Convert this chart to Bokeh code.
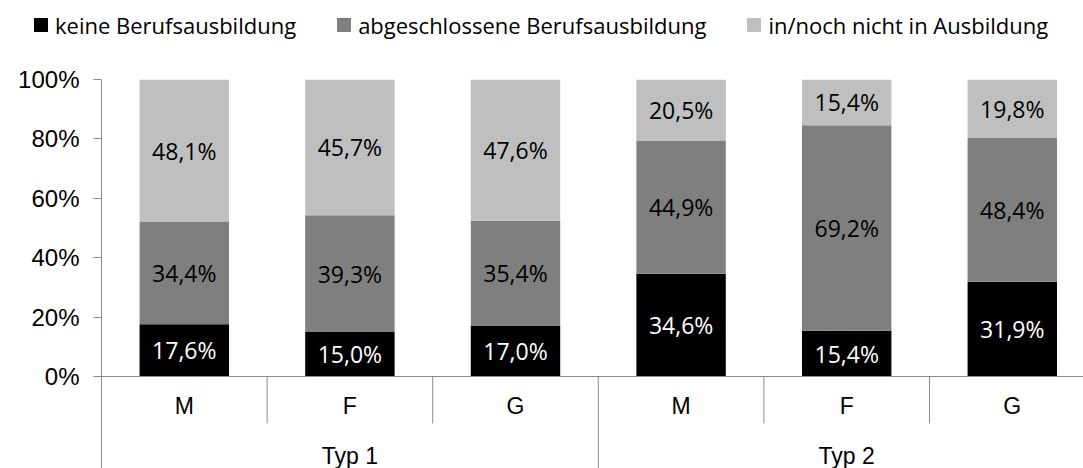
from bokeh.plotting import figure
from bokeh.layouts import column
from bokeh.models import (ColumnDataSource, FixedTicker, Div,
                          NumeralTickFormatter, Span, Range1d)
from bokeh.core.properties import value
from bokeh.embed import file_html
from bokeh.resources import INLINE

groups = ["Typ 1", "Typ 2"]
subcats = ["M", "F", "G"]
series = ["keine Berufsausbildung", "abgeschlossene Berufsausbildung", "in/noch nicht in Ausbildung"]
keine = [17.6, 15.0, 17.0, 34.6, 15.4, 31.9]
abgeschlossen = [34.4, 39.3, 35.4, 44.9, 69.2, 48.4]
in_ausbildung = [48.1, 45.7, 47.6, 20.5, 15.4, 19.8]
colors = ["#000000", "#7f7f7f", "#bfbfbf"]
label_colors = ["#ffffff", "#000000", "#000000"]
y_ticks = [0, 0.2, 0.4, 0.6, 0.8, 1.0]

n_sub = len(subcats)
n = len(groups) * n_sub
xs = [i + 0.5 for i in range(n)]
vals = [keine, abgeschlossen, in_ausbildung]
keys = ["k", "a", "i"]

data = {"x": xs}
for k, v in zip(keys, vals):
    data[k] = [x / 100 for x in v]
src = ColumnDataSource(data)

# ---- legend strip (HTML) ----
items_html = "".join(
    '<div style="display:flex;align-items:center;">'
    '<span style="display:inline-block;width:14px;height:14px;background:%s;margin-right:7px;"></span>'
    '<span>%s</span></div>' % (c, s)
    for c, s in zip(colors, series))
legend_div = Div(
    text='<div style="display:flex;align-items:center;height:50px;padding-left:34px;'
         'column-gap:41px;font-family:\'Open Sans\';font-size:22px;color:#000;'
         'white-space:nowrap;line-height:1;">' + items_html + '</div>',
    width=1083, height=50, margin=0)

# ---- main chart ----
p = figure(width=1083, height=418, output_backend="svg", toolbar_location=None,
           x_range=Range1d(0, 5.93), y_range=Range1d(-0.3098, 1.0),
           x_axis_location=None, min_border_left=101, min_border_right=0,
           min_border_top=29, min_border_bottom=0, margin=0)
p.outline_line_color = None
p.xgrid.visible = False
p.ygrid.visible = False

rs = p.vbar_stack(keys, x="x", width=0.54, source=src, color=colors, line_color=None)

lab_x, lab_y, lab_t, lab_c = [], [], [], []
for i in range(n):
    base = 0.0
    for s, v in enumerate(vals):
        h = v[i] / 100
        lab_x.append(xs[i])
        lab_y.append(base + h / 2)
        lab_t.append(("%.1f" % v[i]).replace(".", ",") + "%")
        lab_c.append(label_colors[s])
        base += h
p.text(x=lab_x, y=lab_y, text=lab_t, text_color=lab_c, text_align="center",
       text_baseline="middle", text_font=value("Open Sans"), text_font_size="23px")

ax = p.yaxis[0]
ax.ticker = FixedTicker(ticks=y_ticks)
ax.formatter = NumeralTickFormatter(format="0%")
ax.axis_line_color = "#8c8c8c"
ax.major_tick_line_color = "#8c8c8c"
ax.major_tick_in = 0
ax.major_tick_out = 8
ax.minor_tick_line_color = None
ax.major_label_standoff = 14
ax.major_label_text_font = "Liberation Sans"
ax.major_label_text_font_size = "24px"
ax.major_label_text_color = "#000000"

p.add_layout(Span(location=0, dimension="width", line_color="#8c8c8c", line_width=1))
short_x = [float(i) for i in range(1, n) if i % n_sub != 0]
long_x = [float(i) for i in range(1, n) if i % n_sub == 0]
p.segment(x0=short_x, y0=[0] * len(short_x), x1=short_x, y1=[-0.158] * len(short_x),
          line_color="#8c8c8c", line_width=1)
p.segment(x0=long_x, y0=[0] * len(long_x), x1=long_x, y1=[-0.3098] * len(long_x),
          line_color="#8c8c8c", line_width=1)
p.text(x=xs, y=[-0.101] * n, text=[subcats[i % n_sub] for i in range(n)],
       text_align="center", text_baseline="middle", text_font=value("Liberation Sans"),
       text_font_size="23px", text_color="#000000")
gx = [g * n_sub + n_sub / 2 for g in range(len(groups))]
p.text(x=gx, y=[-0.269] * len(groups), text=groups, text_align="center",
       text_baseline="middle", text_font=value("Liberation Sans"),
       text_font_size="23px", text_color="#000000")

layout = column(legend_div, p, spacing=0)
open("out.html", "w").write(file_html(layout, INLINE))
